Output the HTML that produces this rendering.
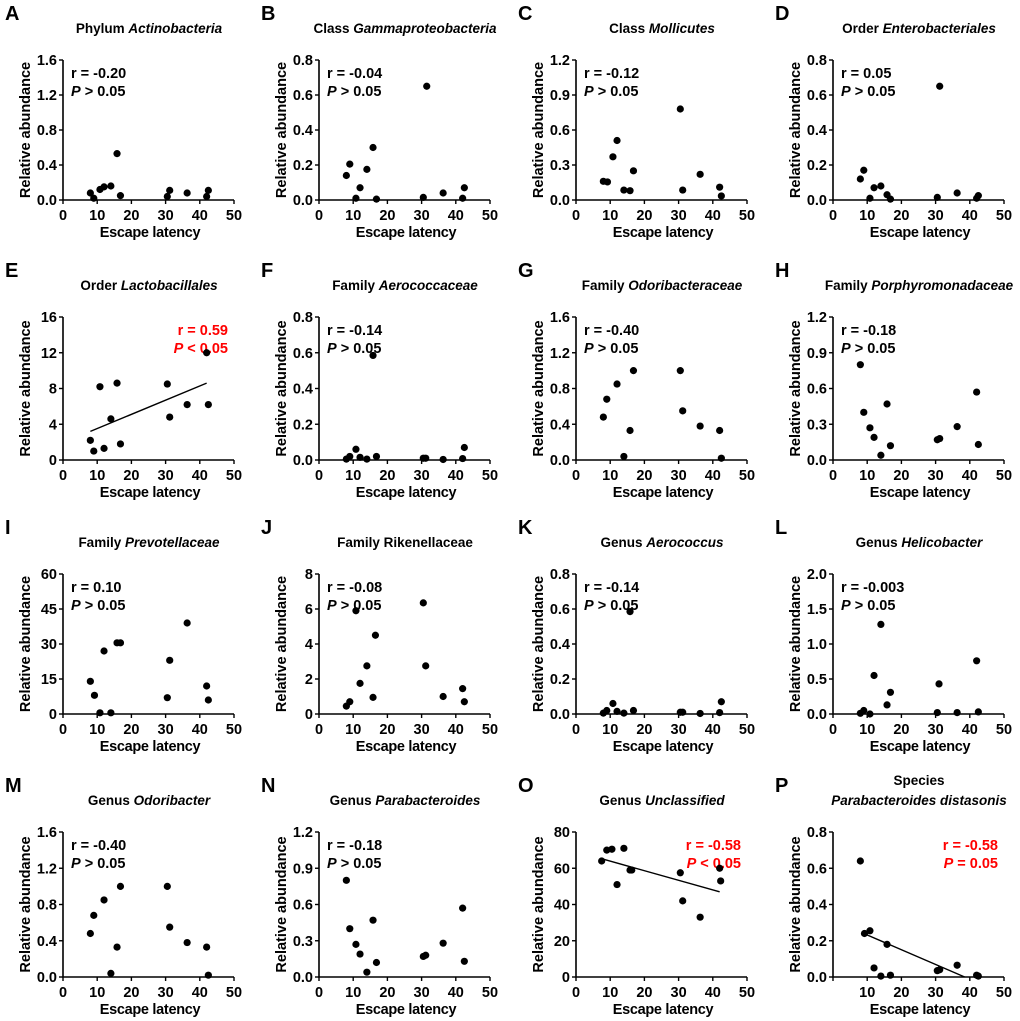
<!DOCTYPE html>
<html><head><meta charset="utf-8">
<style>
html,body{margin:0;padding:0;background:#fff;}
svg{display:block;font-family:"Liberation Sans",Arial,sans-serif;font-weight:bold;}
</style></head>
<body>
<svg id="fig" width="1020" height="1021" viewBox="0 0 1020 1021" xmlns="http://www.w3.org/2000/svg"></svg>
<script>
// ---- data ----
const xTicks = [0,10,20,30,40,50];
const xA=[8,9,10.8,12,14,15.8,16.8,30.5,31.2,36.3,42,42.5];
const yA=[0.08,0.02,0.12,0.15,0.16,0.53,0.05,0.04,0.11,0.08,0.04,0.11];
const xB=[8,9,10.8,12,14,15.8,16.8,30.5,31.5,36.3,42,42.5];
const yB=[0.14,0.205,0.01,0.07,0.175,0.30,0.005,0.015,0.65,0.04,0.01,0.07];
const xC=[8,9.2,10.8,12,14,15.8,16.8,30.5,31.2,36.3,42,42.5];
const yC=[0.16,0.155,0.37,0.51,0.085,0.08,0.25,0.78,0.085,0.22,0.11,0.035];
const xD=[8,9,10.8,12,14,15.8,16.8,30.5,31.2,36.3,42,42.5];
const yD=[0.12,0.17,0.01,0.07,0.08,0.03,0.005,0.015,0.65,0.04,0.01,0.025];
const xE=[8,9,10.8,12,14,15.8,16.8,30.5,31.2,36.3,42,42.5];
const yE=[2.2,1.0,8.2,1.3,4.6,8.6,1.8,8.5,4.8,6.2,12,6.2];
const lineE=[[8,3.2],[42,8.6]];
const xF=[8,9,10.8,12,14,15.8,16.8,30.5,31.2,36.3,42,42.5];
const yF=[0.005,0.02,0.06,0.015,0.005,0.585,0.02,0.01,0.01,0.003,0.008,0.07];
const xG=[8,9,12,14,15.8,16.8,30.5,31.2,36.3,42,42.5];
const yG=[0.48,0.68,0.85,0.04,0.33,1.0,1.0,0.55,0.38,0.33,0.02];
const xH=[8,9,10.8,12,14,15.8,16.8,30.5,31.2,36.3,42,42.5];
const yH=[0.80,0.40,0.27,0.19,0.04,0.47,0.12,0.17,0.18,0.28,0.57,0.13];
const xI=[8,9.2,10.8,12,14,15.8,16.8,30.5,31.2,36.3,42,42.5];
const yI=[14,8,0.5,27,0.5,30.5,30.5,7,23,39,12,6];
const xJ=[8,9,10.8,12,14,15.8,16.5,30.5,31.2,36.3,42,42.5];
const yJ=[0.45,0.7,5.9,1.75,2.75,0.95,4.5,6.35,2.75,1.0,1.45,0.7];
const xK=[8,9,10.8,12,14,15.8,16.8,30.5,31.2,36.3,42,42.5];
const yK=[0.005,0.02,0.06,0.015,0.005,0.585,0.02,0.01,0.01,0.003,0.008,0.07];
const xL=[8,9,10.8,12,14,15.8,16.8,31,30.5,36.3,42,42.5];
const yL=[0.01,0.05,0.0,0.55,1.28,0.13,0.31,0.43,0.02,0.02,0.76,0.03];
const xM=[8,9,12,14,15.8,16.8,30.5,31.2,36.3,42,42.5];
const yM=[0.48,0.68,0.85,0.04,0.33,1.0,1.0,0.55,0.38,0.33,0.02];
const xN=[8,9,10.8,12,14,15.8,16.8,30.5,31.2,36.3,42,42.5];
const yN=[0.80,0.40,0.27,0.19,0.04,0.47,0.12,0.17,0.18,0.28,0.57,0.13];
const xO=[7.5,9,10.5,12,14,15.8,16.3,30.5,31.2,36.3,42,42.3];
const yO=[64,70,70.5,51,71,59,59,57.5,42,33,60,53];
const lineO=[[8,65],[42,47]];
const xP=[8,9.2,10.8,12,14,15.8,16.8,30.5,31.2,36.3,42,42.5];
const yP=[0.64,0.24,0.255,0.05,0.005,0.18,0.01,0.035,0.04,0.065,0.01,0.005];
const lineP=[[9,0.24],[38.5,0]];
const yTicksA=["0.0","0.4","0.8","1.2","1.6"];
const yTicksB=["0.0","0.2","0.4","0.6","0.8"];
const yTicksC=["0.0","0.3","0.6","0.9","1.2"];
const yTicksE=["0","4","8","12","16"];
const yTicksI=["0","15","30","45","60"];
const yTicksJ=["0","2","4","6","8"];
const yTicksL=["0.0","0.5","1.0","1.5","2.0"];
const yTicksO=["0","20","40","60","80"];

const panels=[
 {L:"A",t1:"Phylum ",t2:"Actinobacteria",xs:xA,ys:yA,yt:yTicksA,r:"r = -0.20",p:" > 0.05"},
 {L:"B",t1:"Class ",t2:"Gammaproteobacteria",xs:xB,ys:yB,yt:yTicksB,r:"r = -0.04",p:" > 0.05"},
 {L:"C",t1:"Class ",t2:"Mollicutes",xs:xC,ys:yC,yt:yTicksC,r:"r = -0.12",p:" > 0.05"},
 {L:"D",t1:"Order ",t2:"Enterobacteriales",xs:xD,ys:yD,yt:yTicksB,r:"r = 0.05",p:" > 0.05"},
 {L:"E",t1:"Order ",t2:"Lactobacillales",xs:xE,ys:yE,yt:yTicksE,r:"r = 0.59",p:" < 0.05",red:true,line:lineE},
 {L:"F",t1:"Family ",t2:"Aerococcaceae",xs:xF,ys:yF,yt:yTicksB,r:"r = -0.14",p:" > 0.05"},
 {L:"G",t1:"Family ",t2:"Odoribacteraceae",xs:xG,ys:yG,yt:yTicksA,r:"r = -0.40",p:" > 0.05"},
 {L:"H",t1:"Family ",t2:"Porphyromonadaceae",xs:xH,ys:yH,yt:yTicksC,r:"r = -0.18",p:" > 0.05"},
 {L:"I",t1:"Family ",t2:"Prevotellaceae",xs:xI,ys:yI,yt:yTicksI,r:"r = 0.10",p:" > 0.05"},
 {L:"J",t1:"Family Rikenellaceae",t2:"",xs:xJ,ys:yJ,yt:yTicksJ,r:"r = -0.08",p:" > 0.05"},
 {L:"K",t1:"Genus ",t2:"Aerococcus",xs:xK,ys:yK,yt:yTicksB,r:"r = -0.14",p:" > 0.05"},
 {L:"L",t1:"Genus ",t2:"Helicobacter",xs:xL,ys:yL,yt:yTicksL,r:"r = -0.003",p:" > 0.05"},
 {L:"M",t1:"Genus ",t2:"Odoribacter",xs:xM,ys:yM,yt:yTicksA,r:"r = -0.40",p:" > 0.05"},
 {L:"N",t1:"Genus ",t2:"Parabacteroides",xs:xN,ys:yN,yt:yTicksC,r:"r = -0.18",p:" > 0.05"},
 {L:"O",t1:"Genus ",t2:"Unclassified",xs:xO,ys:yO,yt:yTicksO,r:"r = -0.58",p:" < 0.05",red:true,line:lineO},
 {L:"P",t1:"Species",t2:"Parabacteroides distasonis",two:true,xs:xP,ys:yP,yt:yTicksB,r:"r = -0.58",p:" = 0.05",red:true,line:lineP,noZero:true}
];
const colX=[63,319,576,833], W=171;
const rowTop=[60,317,574,832], rowBot=[200,460,714,977];
const NS="http://www.w3.org/2000/svg";
const svg=document.getElementById('fig');
function mk(tag,attrs,parent,text){const e=document.createElementNS(NS,tag);for(const k in attrs)e.setAttribute(k,attrs[k]);if(text!==undefined)e.textContent=text;(parent||svg).appendChild(e);return e;}

panels.forEach((P,i)=>{
 const c=i%4, r=Math.floor(i/4);
 const x0=colX[c], top=rowTop[r], bot=rowBot[r];
 const ymax=parseFloat(P.yt[P.yt.length-1]);
 const sx=v=>x0+v/50*W, sy=v=>bot-v/ymax*(bot-top);
 const g=mk('g',{});
 
 
 const lt=mk('text',{x:x0-58,y:top-40,'font-size':20},g,P.L);
 
 const cx=x0+86;
 if(P.two){
  const t=mk('text',{x:cx,y:top-47,'text-anchor':'middle','font-size':13.5},g,P.t1);
  
  const t2=mk('text',{x:cx,y:top-27,'text-anchor':'middle','font-size':13.5,'font-style':'italic'},g,P.t2);
  
 } else {
  const t=mk('text',{x:cx,y:top-27,'text-anchor':'middle','font-size':13.5},g);
  
  mk('tspan',{},t,P.t1); if(P.t2) mk('tspan',{'font-style':'italic'},t,P.t2);
 }
 // axes
 const ax=mk('path',{d:`M${x0},${top}V${bot}H${x0+W}`,stroke:'#000','stroke-width':1.6,fill:'none'},g);
 
 P.yt.forEach((lab,k)=>{const v=parseFloat(lab);const y=sy(v);
  mk('line',{x1:x0-4,x2:x0,y1:y,y2:y,stroke:'#000','stroke-width':1.4},g);
  const tl=mk('text',{x:x0-6,y:y+5,'text-anchor':'end','font-size':14.5},g,lab);
  
 });
 xTicks.forEach(v=>{const x=sx(v);
  mk('line',{x1:x,x2:x,y1:bot,y2:bot+4,stroke:'#000','stroke-width':1.4},g);
  if(P.noZero&&v===0)return;
  const tl=mk('text',{x:x,y:bot+20,'text-anchor':'middle','font-size':14.5},g,String(v));
  
 });
 const xl=mk('text',{x:x0+87,y:bot+37,'text-anchor':'middle','font-size':14.5,'letter-spacing':'-0.3'},g,'Escape latency');
 
 const ycx=x0-38, ycy=(top+bot)/2;
 const yl=mk('text',{x:ycx,y:ycy+5,'text-anchor':'middle','font-size':14.5,transform:`rotate(-90 ${ycx} ${ycy})`},g,'Relative abundance');
 
 // stats
 const col=P.red?'#f00':'#000';
 const anchor=P.red?'end':'start', tx=P.red?x0+W-6:x0+8;
 const rt=mk('text',{x:tx,y:top+18,'text-anchor':anchor,'font-size':14.5,fill:col},g,P.r);
 
 const pt=mk('text',{x:tx,y:top+36,'text-anchor':anchor,'font-size':14.5,fill:col},g);
 
 mk('tspan',{'font-style':'italic'},pt,'P'); mk('tspan',{},pt,P.p);
 if(P.line){
  const ln=mk('line',{x1:sx(P.line[0][0]),y1:sy(P.line[0][1]),x2:sx(P.line[1][0]),y2:sy(P.line[1][1]),stroke:'#000','stroke-width':1.4},g);
  
 }
 P.xs.forEach((xv,k)=>{
  const d=mk('circle',{cx:sx(xv),cy:sy(P.ys[k]),r:3.6,fill:'#000'},g);
  
  
 });
});
</script>
</body></html>
